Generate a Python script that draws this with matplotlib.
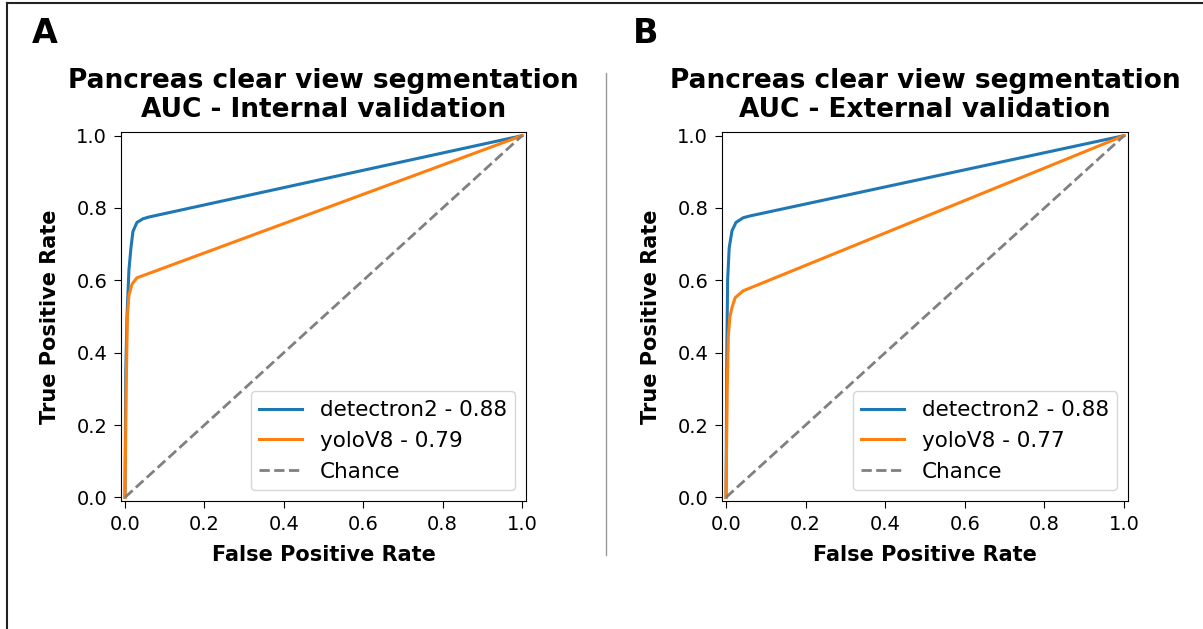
import matplotlib
matplotlib.use("Agg")
import matplotlib.pyplot as plt
from matplotlib.lines import Line2D

# ROC points read for each model (fpr, tpr)
int_det_fpr = [0.0, 0.002, 0.005, 0.010, 0.015, 0.020, 0.030, 0.045, 0.060, 1.0]
int_det_tpr = [0.0, 0.35, 0.50, 0.63, 0.69, 0.735, 0.76, 0.77, 0.775, 1.0]
int_yolo_fpr = [0.0, 0.003, 0.006, 0.010, 0.018, 0.030, 0.050, 1.0]
int_yolo_tpr = [0.0, 0.30, 0.50, 0.56, 0.59, 0.607, 0.615, 1.0]

ext_det_fpr = [0.0, 0.002, 0.004, 0.008, 0.015, 0.025, 0.043, 0.060, 1.0]
ext_det_tpr = [0.0, 0.40, 0.60, 0.69, 0.737, 0.76, 0.773, 0.778, 1.0]
ext_yolo_fpr = [0.0, 0.003, 0.006, 0.010, 0.015, 0.023, 0.043, 1.0]
ext_yolo_tpr = [0.0, 0.30, 0.45, 0.50, 0.525, 0.552, 0.571, 1.0]

auc_int = {'detectron2': 0.88, 'yoloV8': 0.79}
auc_ext = {'detectron2': 0.88, 'yoloV8': 0.77}

titles = ['Pancreas clear view segmentation\nAUC - Internal validation',
          'Pancreas clear view segmentation\nAUC - External validation']
ticks = [0.0, 0.2, 0.4, 0.6, 0.8, 1.0]

fig = plt.figure(figsize=(12.03, 6.29), dpi=100)
ax1 = fig.add_axes([0.1006, 0.2035, 0.3367, 0.5866])
ax2 = fig.add_axes([0.6002, 0.2035, 0.3375, 0.5866])

panels = [
    (ax1, int_det_fpr, int_det_tpr, int_yolo_fpr, int_yolo_tpr, auc_int, titles[0]),
    (ax2, ext_det_fpr, ext_det_tpr, ext_yolo_fpr, ext_yolo_tpr, auc_ext, titles[1]),
]

for ax, dx, dy, yx, yy, auc, title in panels:
    ax.plot(dx, dy, color='tab:blue', lw=2.2, label='detectron2 - %.2f' % auc['detectron2'])
    ax.plot(yx, yy, color='tab:orange', lw=2.2, label='yoloV8 - %.2f' % auc['yoloV8'])
    ax.plot([0, 1], [0, 1], color='gray', lw=2, linestyle='--', label='Chance')
    ax.set_xlim([-0.01, 1.01])
    ax.set_ylim([-0.01, 1.01])
    ax.set_xticks(ticks)
    ax.set_yticks(ticks)
    ax.tick_params(labelsize=14, length=5, pad=5)
    ax.set_xlabel('False Positive Rate', fontsize=15, fontweight='bold', labelpad=8)
    ax.set_ylabel('True Positive Rate', fontsize=15, fontweight='bold', labelpad=12)
    ax.set_title(title, fontsize=19, fontweight='bold', linespacing=1.13, pad=11)
    ax.legend(loc='lower right', fontsize=15.5)

fig.text(0.0374, 0.9475, 'A', fontsize=24, fontweight='bold', ha='center', va='center')
fig.text(0.537, 0.9475, 'B', fontsize=24, fontweight='bold', ha='center', va='center')

# panel divider and outer frame
W, H = 1203, 629
fig.add_artist(Line2D([606 / W, 606 / W], [1 - 73 / H, 1 - 555 / H], color='#999999', lw=1))
fig.add_artist(Line2D([7 / W, 1.0], [1 - 3 / H, 1 - 3 / H], color='#222222', lw=1.5))
fig.add_artist(Line2D([7 / W, 7 / W], [0.0, 1 - 3 / H], color='#222222', lw=1.5))

fig.savefig('out.png', dpi=100)
